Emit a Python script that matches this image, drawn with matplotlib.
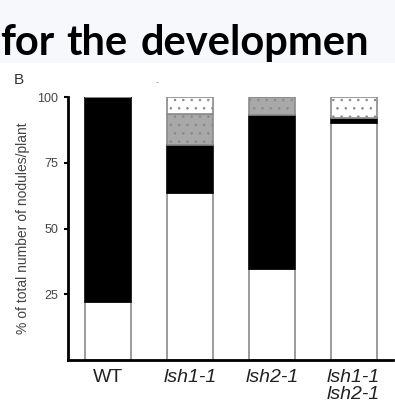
import matplotlib
matplotlib.use("Agg")
import matplotlib.pyplot as plt
from matplotlib.patches import Rectangle

categories = ["WT", "lsh1-1", "lsh2-1", "lsh1-1\nlsh2-1"]
white_vals = [22, 63.5, 34.5, 90.3]
black_vals = [78, 18.2, 58.7, 1.7]
grey_dot_vals = [0, 11.8, 6.8, 0]
white_dot_vals = [0, 6.5, 0, 8.0]
yticks = [25, 50, 75, 100]
title_words = ["for", "the", "developmen"]
title_x = [0, 66, 141]

W, H = 395, 409
fig = plt.figure(figsize=(W/100, H/100), dpi=100)
fig.patch.set_facecolor("white")
fig.patches.append(Rectangle((0, 1 - 63/H), 1, 63/H, transform=fig.transFigure,
                             facecolor="#f6f8fb", edgecolor="none", zorder=0))
for wd, xp in zip(title_words, title_x):
    fig.text(xp/W, 1 - 55/H, wd, fontsize=30, fontweight="bold",
             family="Lato", ha="left", va="baseline", color="black")

ax = fig.add_axes([68/W, (H-360)/H, (393-68)/W, (360-97)/H])
ax.set_facecolor("white")
x = list(range(len(categories)))
width = 0.56
ec = "#8a8a8a"
bottom = [0]*4
ax.bar(x, white_vals, width, bottom=bottom, color="white", edgecolor=ec, linewidth=1.2)
bottom = [b+v for b, v in zip(bottom, white_vals)]
ax.bar(x, black_vals, width, bottom=bottom, color="black", edgecolor="black", linewidth=1.2)
bottom = [b+v for b, v in zip(bottom, black_vals)]
plt.rcParams['hatch.color'] = '#555555'
plt.rcParams['hatch.linewidth'] = 0.6
ax.bar(x, grey_dot_vals, width, bottom=bottom, color="#a8a8a8", edgecolor=ec, hatch="..", linewidth=1.2)
bottom = [b+v for b, v in zip(bottom, grey_dot_vals)]
ax.bar(x, white_dot_vals, width, bottom=bottom, color="white", edgecolor=ec, hatch="..", linewidth=1.2)

ax.set_xlim(-0.49, 3.48)
ax.set_ylim(0, 100)
for s in ["top", "right"]:
    ax.spines[s].set_visible(False)
for s in ["left", "bottom"]:
    ax.spines[s].set_linewidth(2)
ax.set_yticks(yticks)
ax.set_yticklabels([str(t) for t in yticks], fontsize=9, color="#444444", family="Liberation Sans")
ax.tick_params(axis="y", length=3, width=1.5, pad=4)
ax.set_xticks(x)
ax.set_xticklabels([])
ax.tick_params(axis="x", length=0)
for i, c in enumerate(categories):
    style = "normal" if c == "WT" else "italic"
    ax.text(i, -3.5, c, ha="center", va="top", fontsize=14, style=style,
            family="Liberation Sans", transform=ax.transData, linespacing=0.95,
            color="#222222", clip_on=False)
ax.set_ylabel("% of total number of nodules/plant", fontsize=10, color="#444444",
              family="Liberation Sans", labelpad=5)
fig.text(14/W, 1 - 80/H, "B", fontsize=11, ha="left", va="center", family="Liberation Sans",
         color="#333333")
fig.text(157/W, 1 - 83/H, "-", fontsize=6, ha="center", va="center", family="Liberation Sans",
         color="#777777")

fig.savefig("out.png", dpi=100)
